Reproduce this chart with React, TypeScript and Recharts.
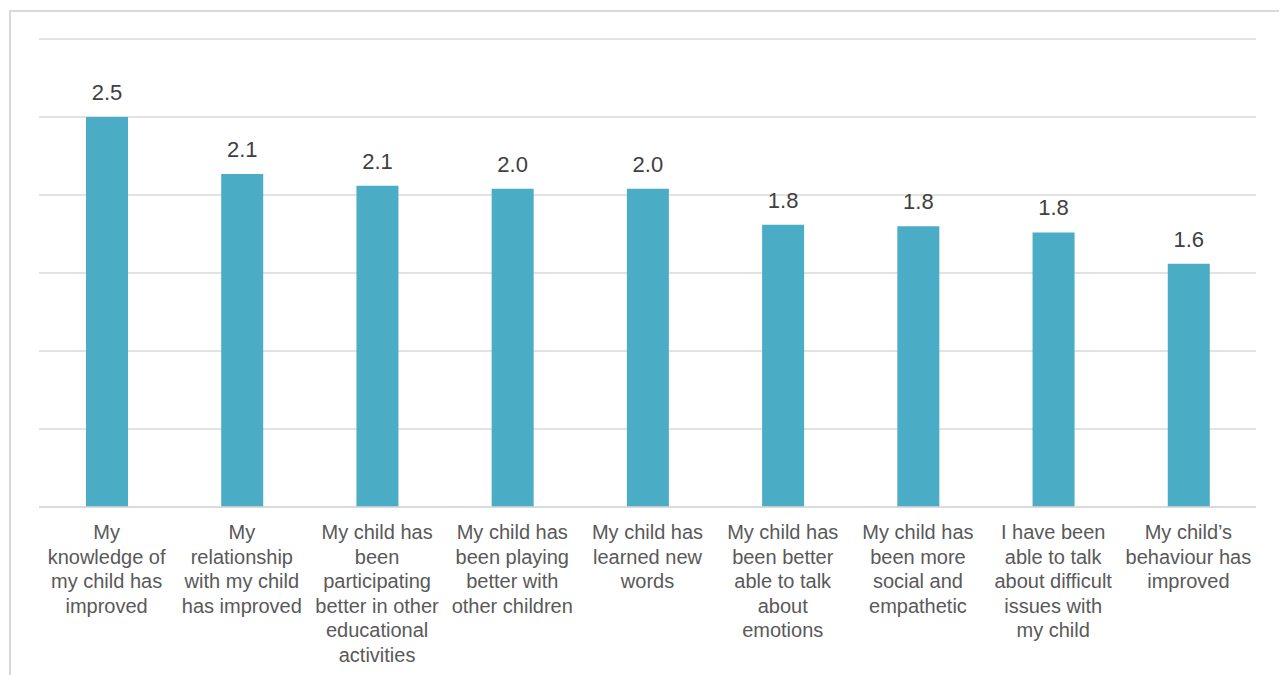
import React from "react";
import { BarChart, Bar, XAxis, YAxis, CartesianGrid, LabelList } from "recharts";

const categories: string[][] = [
  ["My", "knowledge of", "my child has", "improved"],
  ["My", "relationship", "with my child", "has improved"],
  ["My child has", "been", "participating", "better in other", "educational", "activities"],
  ["My child has", "been playing", "better with", "other children"],
  ["My child has", "learned new", "words"],
  ["My child has", "been better", "able to talk", "about", "emotions"],
  ["My child has", "been more", "social and", "empathetic"],
  ["I have been", "able to talk", "about difficult", "issues with", "my child"],
  ["My child\u2019s", "behaviour has", "improved"],
];

const values: number[] = [2.5, 2.135, 2.06, 2.04, 2.04, 1.81, 1.8, 1.76, 1.56];

const yTicks: number[] = [0, 0.5, 1, 1.5, 2, 2.5, 3];

const data = categories.map((lines, i) => ({
  key: String(i),
  lines,
  value: values[i],
}));

const FONT = "'Liberation Sans', Arial, sans-serif";

const CategoryTick = (props: any) => {
  const { x, y, payload } = props;
  const lines: string[] = categories[Number(payload.value)] || [];
  return (
    <g transform={`translate(${x},${y})`}>
      <text
        textAnchor="middle"
        fill="#595959"
        fontSize={20}
        fontFamily={FONT}
      >
        {lines.map((l, i) => (
          <tspan key={i} x={0} y={24 + i * 24.5}>
            {l}
          </tspan>
        ))}
      </text>
    </g>
  );
};

export default function App() {
  return (
    <div style={{ position: "relative", width: 1279, height: 667 }}>
      <div
        style={{
          position: "absolute",
          left: 1,
          top: 2,
          width: 1277,
          height: 700,
          border: "2px solid #d9d9d9",
          boxSizing: "border-box",
        }}
      />
      <div style={{ position: "absolute", left: 0, top: 0 }}>
        <BarChart
          width={1270}
          height={667}
          data={data}
          margin={{ top: 31, right: 22, left: 31, bottom: 8 }}
          barCategoryGap={0}
        >
          <CartesianGrid
            horizontal={true}
            vertical={false}
            stroke="#d9d9d9"
            strokeWidth={1.5}
          />
          <XAxis
            dataKey="key"
            interval={0}
            height={160}
            tick={<CategoryTick />}
            tickLine={false}
            axisLine={{ stroke: "#d9d9d9", strokeWidth: 1.5 }}
          />
          <YAxis hide domain={[0, 3]} ticks={yTicks} width={0} />
          <Bar
            dataKey="value"
            fill="#4BACC6"
            barSize={42}
            isAnimationActive={false}
          >
            <LabelList
              dataKey="value"
              position="top"
              offset={17}
              formatter={(v: any) => Number(v).toFixed(1)}
              fill="#404040"
              fontSize={22}
              fontFamily={FONT}
            />
          </Bar>
        </BarChart>
      </div>
    </div>
  );
}
